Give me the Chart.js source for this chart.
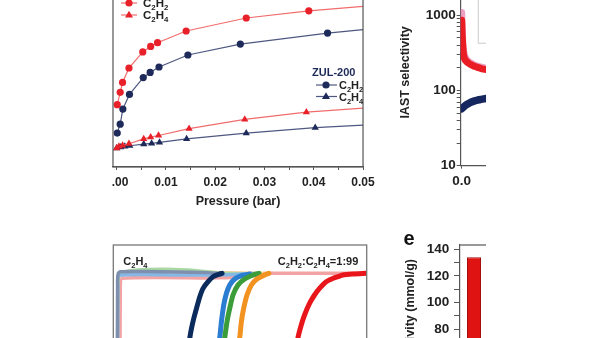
<!DOCTYPE html>
<html><head><meta charset="utf-8">
<script src="https://cdn.jsdelivr.net/npm/chart.js@4.4.1/dist/chart.umd.min.js"></script>
<style>
html,body{margin:0;padding:0;background:#fff;width:600px;height:338px;overflow:hidden;}
#clip{position:absolute;left:112px;top:0;width:374px;height:338px;overflow:hidden;}
canvas{position:absolute;}
</style></head><body>
<div id="clip">
<canvas id="c1" width="340" height="240" style="left:-72px;top:-30px;width:340px;height:240px"></canvas>
<canvas id="c2" width="330" height="230" style="left:278px;top:-30px;width:330px;height:230px"></canvas>
<canvas id="c3" width="280" height="200" style="left:-12px;top:235px;width:280px;height:200px"></canvas>
<canvas id="c4" width="120" height="230" style="left:268px;top:225px;width:120px;height:230px"></canvas>
</div>
<script>
// ---------- data: isotherms (top-left) ----------
const isoP_A_C2H2 = [0.00012,0.00072,0.0012,0.0025,0.0053,0.0069,0.0083,0.0141,0.0263,0.039,0.05];
const isoQ_A_C2H2 = [1.32,1.68,1.97,2.39,2.86,3.02,3.13,3.47,3.85,4.06,4.19];
const isoP_A_C2H4 = [0.0,0.00046,0.0012,0.0025,0.0055,0.0069,0.0085,0.0147,0.026,0.0385,0.05];
const isoQ_A_C2H4 = [0.05,0.10,0.13,0.18,0.32,0.37,0.42,0.62,0.89,1.10,1.22];
const isoP_B_C2H2 = [0.00012,0.00072,0.00126,0.0026,0.0054,0.0068,0.0086,0.01446,0.0251,0.0428,0.05];
const isoQ_B_C2H2 = [0.49,0.75,1.19,1.62,2.11,2.26,2.42,2.77,3.09,3.41,3.51];
const isoP_B_C2H4 = [0.0,0.0008,0.00166,0.00266,0.0055,0.0071,0.0087,0.0142,0.0263,0.0403,0.05];
const isoQ_B_C2H4 = [0.05,0.08,0.10,0.12,0.17,0.19,0.22,0.32,0.49,0.65,0.72];
const isoTicks = [0,0.005,0.01,0.015,0.02,0.025,0.03,0.035,0.04,0.045,0.05];
const isoTickLabels = ['0.00','0.01','0.02','0.03','0.04','0.05'];

// ---------- data: IAST selectivity (top-right) ----------
const iastP_A = [0,0.0005,0.001,0.0015,0.002,0.003,0.004,0.005,0.0065,0.008,0.01,0.013,0.017,0.022,0.028,0.035,0.045,0.055,0.065,0.08,0.095,0.12];
const iastS_A = [850,780,700,620,550,470,410,365,320,295,275,258,247,238,230,222,214,207,202,195,190,186];
const iastP_A2 = [0,0.0005,0.001,0.002,0.003,0.005,0.008,0.012,0.02,0.03,0.045,0.06,0.08,0.1,0.12];
const iastS_A2 = [1080,960,850,680,560,420,335,290,258,240,224,212,203,197,192];
const iastP_B = [0,0.01,0.02,0.03,0.04,0.05,0.06,0.07,0.08,0.09,0.1,0.12];
const iastS_B = [57,61,64.5,67.5,70,72,73.5,75,76,77,78,80];
const iastXTicks = [0,0.2,0.4,0.6,0.8,1.0];
const iastYLabels = [10,100,1000];

// ---------- data: breakthrough (bottom-left) ----------
const btT_navy = [0,62,72.7,74.4,76.7,79.4,82.7,86,91,96,102.7,105];
const btC_navy = [0,0,0.544,0.612,0.683,0.753,0.835,0.894,0.941,0.976,0.995,1.0];
const btT_blue = [0,92,102.7,104.4,106.7,109.4,112.7,117.7,124.4,132.7];
const btC_blue = [0,0,0.544,0.659,0.777,0.859,0.918,0.96,0.984,0.995];
const btT_green = [0,97,107.7,110,112.7,116,121,127.7,136,142];
const btC_green = [0,0,0.544,0.659,0.753,0.847,0.918,0.96,0.988,1.0];
const btT_orange = [0,112,122.7,124.4,126.7,130,134.4,140,147.7,152];
const btC_orange = [0,0,0.544,0.659,0.753,0.847,0.918,0.96,0.988,1.0];
const btT_red = [0,170,181,184.4,187.7,192.7,197.7,202.7,209.4,216,221,226,236,249.4];
const btC_red = [0,0,0.54,0.635,0.706,0.788,0.847,0.894,0.941,0.964,0.976,0.988,0.995,1.0];
const btT_navyE = [0,0.3,1,3,30,60,90,103];
const btC_navyE = [0,0.95,1.0,1.012,1.013,1.01,1.005,1.0];
const btT_blueE = [0.2,0.6,1.5,60,110,135];
const btC_blueE = [0,0.9,0.985,0.988,0.99,1.0];
const btT_greenE = [0,0.5,3,20,50,80,110,142];
const btC_greenE = [0,0.9,1.0,1.025,1.03,1.02,1.0,1.0];
const btT_orangeE = [0.3,0.8,3,30,80,152];
const btC_orangeE = [0,0.9,1.0,1.02,1.01,1.0];
const btT_redE = [2.7,3,5,100,140,150,249.4];
const btC_redE = [0,0.9,0.965,0.968,0.985,1.0,1.0];

// ---------- data: productivity bar (bottom-right) ----------
const prodCategories = [''];
const prodValues = [134];
const prodTickLabels = [80,100,120,140];

// ---------- helpers ----------
const FF = "'Liberation Sans', Arial, Helvetica, sans-serif";
Chart.defaults.font.family = FF;
const AX = '#555';
const RED = '#e8202a', RED_L = '#f26c6c', NAVY = '#1d2a5a', NAVY_L = '#4e5880';
const pts = (xs, ys) => xs.map((x, i) => ({x: x, y: ys[i]}));

function segs(ctx, parts, x, y, size, color, align) {
  const sub = size * 0.68;
  let w = 0;
  parts.forEach(p => { ctx.font = 'bold ' + (p[1] ? sub : size) + 'px ' + FF; w += ctx.measureText(p[0]).width; });
  let cx = align === 'right' ? x - w : x;
  ctx.fillStyle = color; ctx.textAlign = 'left'; ctx.textBaseline = 'alphabetic';
  parts.forEach(p => {
    ctx.font = 'bold ' + (p[1] ? sub : size) + 'px ' + FF;
    ctx.fillText(p[0], cx, p[1] ? y + size * 0.28 : y);
    cx += ctx.measureText(p[0]).width;
  });
}
const C2H2 = [['C',0],['2',1],['H',0],['2',1]];
const C2H4 = [['C',0],['2',1],['H',0],['4',1]];
function circ(ctx, x, y, r, c) { ctx.fillStyle = c; ctx.beginPath(); ctx.arc(x, y, r, 0, Math.PI * 2); ctx.fill(); }
function tri(ctx, x, y, r, c) { ctx.fillStyle = c; ctx.beginPath(); ctx.moveTo(x, y - r); ctx.lineTo(x + r * 0.95, y + r * 0.62); ctx.lineTo(x - r * 0.95, y + r * 0.62); ctx.closePath(); ctx.fill(); }
function line(ctx, x1, y1, x2, y2, c, w) { ctx.strokeStyle = c; ctx.lineWidth = w; ctx.beginPath(); ctx.moveTo(x1, y1); ctx.lineTo(x2, y2); ctx.stroke(); }

const common = {responsive: false, animation: false, events: [], plugins: {legend: {display: false}, tooltip: {enabled: false}}};

// ---------- chart 1: isotherms ----------
function isoDs(xs, ys, mc, lc, style, r) {
  return {data: pts(xs, ys), showLine: true, borderColor: lc, borderWidth: 1.2, tension: 0,
    pointStyle: style, pointBackgroundColor: mc, pointBorderColor: mc, pointBorderWidth: 0,
    pointRadius: c => (c.parsed && c.parsed.x >= 0.05 ? 0 : r)};
}
const O1 = {x: 40, y: -30};
new Chart(document.getElementById('c1'), {
  type: 'scatter',
  data: {datasets: [
    isoDs(isoP_A_C2H2, isoQ_A_C2H2, RED, RED_L, 'circle', 3.6),
    isoDs(isoP_B_C2H2, isoQ_B_C2H2, NAVY, NAVY_L, 'circle', 3.6),
    isoDs(isoP_A_C2H4, isoQ_A_C2H4, RED, RED_L, 'triangle', 4.2),
    isoDs(isoP_B_C2H4, isoQ_B_C2H4, NAVY, NAVY_L, 'triangle', 4.2)
  ]},
  options: Object.assign({}, common, {
    layout: {padding: {left: 0, top: 0, right: 13.3, bottom: 0}},
    scales: {
      x: {type: 'linear', min: -0.00074, max: 0.05,
        afterBuildTicks: s => { s.ticks = isoTicks.map(v => ({value: v})); },
        ticks: {autoSkip: false, maxRotation: 0, padding: 5.3, color: '#222', font: {size: 12, weight: 'bold'},
          callback: v => { const k = Math.round(v * 100); return Math.abs(v * 100 - k) < 1e-6 ? isoTickLabels[k] : ''; }},
        grid: {drawOnChartArea: false, tickLength: 3, color: AX, lineWidth: 1},
        border: {display: true, color: AX, width: 1.2},
        title: {display: true, text: 'Pressure (bar)', color: '#222', font: {size: 12.5, weight: 'bold'}, padding: {top: 0, bottom: 1}},
        afterFit: s => { s.height = 43; }},
      y: {min: -0.5, max: 5.129, ticks: {display: false}, grid: {display: false}, border: {display: false},
        afterFit: s => { s.width = 73; }}
    }
  }),
  plugins: [{id: 'f1', afterDraw(ch) {
    const ctx = ch.ctx, a = ch.chartArea, X = px => px - O1.x, Y = py => py - O1.y;
    ctx.save();
    ctx.strokeStyle = AX; ctx.lineWidth = 1.2;
    ctx.beginPath(); ctx.moveTo(a.left, a.top - 2); ctx.lineTo(a.left, a.bottom); ctx.lineTo(a.right, a.bottom); ctx.lineTo(a.right, a.top - 2); ctx.stroke();
    // legend A
    line(ctx, X(121), Y(3), X(137), Y(3), RED_L, 1.2); circ(ctx, X(129), Y(3), 3.6, RED);
    segs(ctx, C2H2, X(143), Y(7.2), 11.5, '#222');
    line(ctx, X(121), Y(15), X(137), Y(15), RED_L, 1.2); tri(ctx, X(129), Y(15), 4.2, RED);
    segs(ctx, C2H4, X(143), Y(19.2), 11.5, '#222');
    // legend B
    segs(ctx, [['ZUL-200',0]], X(312), Y(75.7), 11, NAVY);
    line(ctx, X(316), Y(85), X(337), Y(85), NAVY_L, 1.2); circ(ctx, X(326), Y(85), 3.6, NAVY);
    segs(ctx, C2H2, X(339), Y(89.2), 11, '#222');
    line(ctx, X(316), Y(96.5), X(337), Y(96.5), NAVY_L, 1.2); tri(ctx, X(326), Y(96.5), 4.2, NAVY);
    segs(ctx, C2H4, X(339), Y(100.7), 11, '#222');
    ctx.restore();
  }}]
});

// ---------- chart 2: IAST selectivity ----------
const O2 = {x: 390, y: -30};
function bandDs(xs, ys, c, w) {
  return {data: pts(xs, ys), showLine: true, borderColor: c, borderWidth: w, pointRadius: 0, tension: 0.3,
    borderCapStyle: 'round', borderJoinStyle: 'round'};
}
new Chart(document.getElementById('c2'), {
  type: 'scatter',
  data: {datasets: [
    bandDs(iastP_A, iastS_A, '#ea1c24', 7),
    bandDs(iastP_A2, iastS_A2, 'rgba(230,130,175,0.75)', 7),
    bandDs(iastP_B, iastS_B, '#15275e', 7.5)
  ]},
  options: Object.assign({}, common, {
    layout: {padding: {left: 3.8, top: 5.7, right: 8.3, bottom: 0}},
    scales: {
      x: {type: 'linear', min: -0.004, max: 1.0,
        afterBuildTicks: s => { s.ticks = iastXTicks.map(v => ({value: v})); },
        ticks: {autoSkip: false, maxRotation: 0, padding: 4.9, color: '#222', font: {size: 13.5, weight: 'bold'}, callback: v => v.toFixed(1)},
        grid: {drawOnChartArea: false, tickLength: 3, color: AX},
        border: {display: true, color: AX, width: 1.2},
        afterFit: s => { s.height = 34.3; }},
      y: {type: 'logarithmic', min: 10, max: 3000,
        afterBuildTicks: s => { const t = []; for (let d = 10; d <= 1000; d *= 10) for (let m = 1; m <= 9; m++) { if (d * m <= 3000) t.push({value: d * m}); } s.ticks = t; },
        ticks: {autoSkip: false, padding: 1, color: '#222', font: {size: 13.5, weight: 'bold'},
          callback: v => (iastYLabels.indexOf(Math.round(v)) >= 0 ? String(Math.round(v)) : '')},
        grid: {drawOnChartArea: false, tickLength: 4, color: AX},
        border: {display: true, color: AX, width: 1.2},
        title: {display: true, text: 'IAST selectivity', color: '#222', font: {size: 12.5, weight: 'bold'}, padding: {top: 4, bottom: 4}},
        afterFit: s => { s.width = 66.9; }}
    }
  }),
  plugins: [{id: 'f2', afterDatasetsDraw(ch) {
    const ctx = ch.ctx, X = px => px - O2.x, Y = py => py - O2.y;
    ctx.save();
    ctx.fillStyle = '#fff'; ctx.fillRect(X(478.3), Y(-10), 300, 53.3);
    ctx.strokeStyle = '#d4d4d4'; ctx.lineWidth = 1.2; ctx.strokeRect(X(478.3), Y(-10), 300, 53.3);
    ctx.restore();
  }}]
});

// ---------- chart 3: breakthrough ----------
const O3 = {x: 100, y: 235};
function btDs(xs, ys, c, w) {
  return {data: pts(xs, ys), showLine: true, borderColor: c, borderWidth: w, pointRadius: 0, tension: 0.2,
    borderCapStyle: 'round', borderJoinStyle: 'round'};
}
new Chart(document.getElementById('c3'), {
  type: 'scatter',
  data: {datasets: [
    btDs(btT_red, btC_red, '#e8161b', 5),
    btDs(btT_orange, btC_orange, '#f29220', 5),
    btDs(btT_green, btC_green, '#3b9c3a', 5),
    btDs(btT_blue, btC_blue, '#2a7dd1', 5),
    btDs(btT_navy, btC_navy, '#0b2b5c', 5),
    btDs(btT_navyE, btC_navyE, '#7f8fae', 3.5),
    btDs(btT_blueE, btC_blueE, '#86b8e6', 3.5),
    btDs(btT_greenE, btC_greenE, '#a9d8a4', 3),
    btDs(btT_orangeE, btC_orangeE, '#f6c68a', 3),
    btDs(btT_redE, btC_redE, '#f3a3a3', 3.5)
  ]},
  options: Object.assign({}, common, {
    layout: {padding: {left: 13.3, top: 10, right: 13.3, bottom: 20}},
    scales: {
      x: {type: 'linear', display: false, min: -4, max: 250},
      y: {type: 'linear', display: false, min: 0, max: 1.2}
    }
  }),
  plugins: [{id: 'f3', afterDraw(ch) {
    const ctx = ch.ctx, a = ch.chartArea, X = px => px - O3.x, Y = py => py - O3.y;
    ctx.save();
    ctx.strokeStyle = '#777'; ctx.lineWidth = 1.3;
    ctx.strokeRect(a.left, a.top, a.right - a.left, a.bottom - a.top);
    segs(ctx, C2H4, X(123.3), Y(264.7), 11, '#222');
    segs(ctx, [['C',0],['2',1],['H',0],['2',1],[':',0],['C',0],['2',1],['H',0],['4',1],['=1:99',0]], X(358.3), Y(264.7), 11, '#222', 'right');
    ctx.restore();
  }}]
});

// ---------- chart 4: productivity bar ----------
const O4 = {x: 380, y: 225};
new Chart(document.getElementById('c4'), {
  type: 'bar',
  data: {labels: prodCategories, datasets: [{data: prodValues, backgroundColor: '#e01313', borderColor: '#a30d0d', borderWidth: 1,
    categoryPercentage: 1, barPercentage: 0.5}]},
  options: Object.assign({}, common, {
    layout: {padding: {left: 0, top: 20, right: 12, bottom: 19}},
    scales: {
      x: {display: false},
      y: {min: 0, max: 143.2,
        afterBuildTicks: s => { const t = []; for (let v = 0; v <= 140; v += 10) t.push({value: v}); s.ticks = t; },
        ticks: {autoSkip: false, padding: 4.7, color: '#222', font: {size: 13.5, weight: 'bold'},
          callback: v => (prodTickLabels.indexOf(v) >= 0 ? String(v) : '')},
        grid: {drawOnChartArea: false, tickLength: 6, color: AX},
        border: {display: true, color: AX, width: 1.2},
        afterFit: s => { s.width = 80; }}
    }
  }),
  plugins: [{id: 'f4', afterDraw(ch) {
    const ctx = ch.ctx, a = ch.chartArea, X = px => px - O4.x, Y = py => py - O4.y;
    ctx.save();
    line(ctx, a.left, a.top, a.right + 10, a.top, '#777', 1.3);
    ctx.fillStyle = '#111'; ctx.font = 'bold 20px ' + FF; ctx.textAlign = 'center'; ctx.textBaseline = 'alphabetic';
    ctx.fillText('e', X(409), Y(245));
    ctx.translate(X(410.5), Y(259)); ctx.rotate(-Math.PI / 2);
    ctx.font = 'bold 12.5px ' + FF; ctx.textAlign = 'right'; ctx.textBaseline = 'middle'; ctx.fillStyle = '#222';
    ctx.fillText('Productivity (mmol/g)', 0, 0);
    ctx.restore();
  }}]
});
</script>
</body></html>
